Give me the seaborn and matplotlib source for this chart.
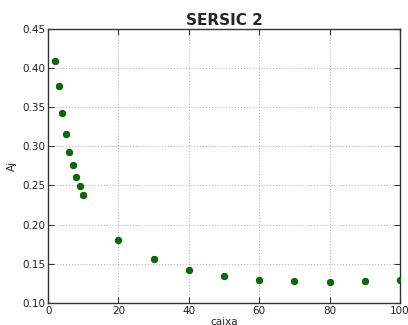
import matplotlib
matplotlib.use("Agg")
import matplotlib.pyplot as plt
import seaborn as sns
import pandas as pd

caixa = [2, 3, 4, 5, 6, 7, 8, 9, 10, 20, 30, 40, 50, 60, 70, 80, 90, 100]
aj = [0.409, 0.377, 0.343, 0.316, 0.293, 0.276, 0.261, 0.249, 0.238,
      0.180, 0.156, 0.142, 0.134, 0.129, 0.128, 0.127, 0.128, 0.129]
xticks = [0, 20, 40, 60, 80, 100]
yticks = [0.10, 0.15, 0.20, 0.25, 0.30, 0.35, 0.40, 0.45]

sns.set_style("white")
plt.rcParams['font.family'] = ['DejaVu Sans']

df = pd.DataFrame({"caixa": caixa, "Aj": aj})
fig = plt.figure(figsize=(4.08, 3.25), dpi=100)
ax = fig.add_axes([0.118, 0.068, 0.862, 0.843])
sns.scatterplot(data=df, x="caixa", y="Aj", ax=ax, color="#007000",
                edgecolor="#004000", linewidth=0.5, s=22, zorder=3)
ax.set_xlim(0, 100)
ax.set_ylim(0.10, 0.45)
ax.set_xticks(xticks)
ax.set_yticks(yticks)
ax.set_yticklabels([f"{v:.2f}" for v in yticks])
ax.grid(True, linestyle=(0, (1, 2)), color="#aaaaaa", linewidth=0.7)
for s in ax.spines.values():
    s.set_color("#333333")
    s.set_linewidth(1.0)
ax.tick_params(direction="in", length=4, labelsize=7.5, top=True, right=True,
               left=True, bottom=True, colors="#333333", labelcolor="#222222",
               pad=2)
ax.set_xlabel("caixa", fontsize=7.5, labelpad=1)
ax.set_ylabel("Aj", fontsize=7.5, labelpad=4)
ax.set_title("SERSIC 2", fontsize=11, fontweight="bold", pad=3)
fig.savefig("out.png", dpi=100)
